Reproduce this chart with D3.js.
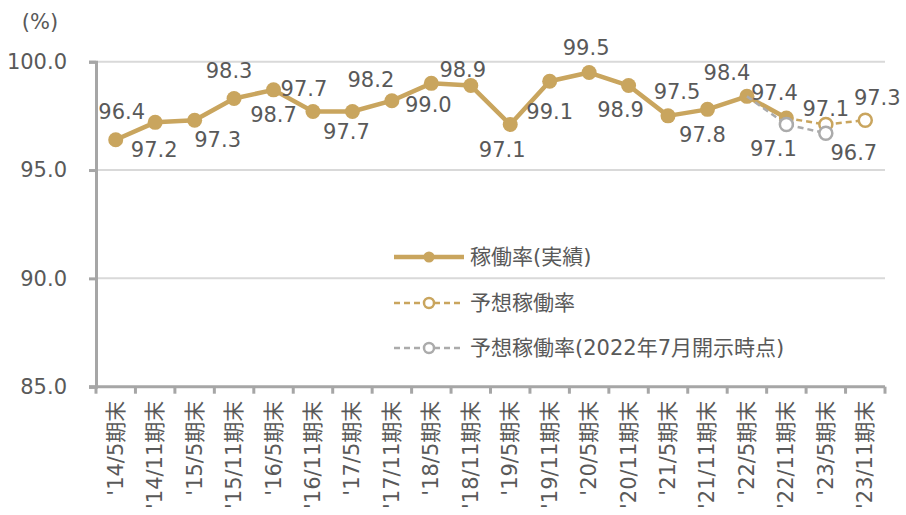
<!DOCTYPE html>
<html>
<head>
<meta charset="utf-8">
<script src="https://cdn.jsdelivr.net/npm/d3@7"></script>
<style>
  body { margin: 0; background: #fff; }
  svg { display: block; font-family: "DejaVu Sans", "Noto Sans CJK JP", sans-serif; }
  text { fill: #595959; }
</style>
</head>
<body>
<svg id="chart"></svg>
<script>
const WIDTH = 906;
const HEIGHT = 515;

const categories = [
  "'14/5期末", "'14/11期末", "'15/5期末", "'15/11期末", "'16/5期末",
  "'16/11期末", "'17/5期末", "'17/11期末", "'18/5期末", "'18/11期末",
  "'19/5期末", "'19/11期末", "'20/5期末", "'20/11期末", "'21/5期末",
  "'21/11期末", "'22/5期末", "'22/11期末", "'23/5期末", "'23/11期末"
];
const actual = [96.4, 97.2, 97.3, 98.3, 98.7, 97.7, 97.7, 98.2, 99.0, 98.9,
  97.1, 99.1, 99.5, 98.9, 97.5, 97.8, 98.4, 97.4, null, null];
const forecast = [null, null, null, null, null, null, null, null, null, null,
  null, null, null, null, null, null, null, 97.4, 97.1, 97.3];
const forecastJul22 = [null, null, null, null, null, null, null, null, null, null,
  null, null, null, null, null, null, 98.4, 97.1, 96.7, null];
const yTicks = [85, 90, 95, 100];
const legendNames = ['稼働率(実績)', '予想稼働率', '予想稼働率(2022年7月開示時点)'];

const GOLD = '#C9A55E';
const GREY = '#ABABAB';

const svg = d3.select('#chart').attr('width', WIDTH).attr('height', HEIGHT);

const x = d3.scaleBand().domain(categories).range([96, 885]);
const y = d3.scaleLinear().domain([85, 100]).range([386.7, 61.7]);
const cx = i => x(categories[i]) + x.bandwidth() / 2;

// gridlines
svg.append('g').selectAll('line')
  .data(yTicks.filter(d => d > 85))
  .enter().append('line')
  .attr('x1', 96).attr('x2', 885)
  .attr('y1', d => y(d)).attr('y2', d => y(d))
  .attr('stroke', '#d9d9d9').attr('stroke-width', 2);

// y axis
const yAxis = svg.append('g')
  .attr('transform', 'translate(96,0)')
  .call(d3.axisLeft(y).tickValues(yTicks).tickSize(7).tickPadding(22)
    .tickFormat(d3.format('.1f')));
yAxis.select('.domain').attr('stroke', '#A6A6A6').attr('stroke-width', 3);
yAxis.selectAll('.tick line').attr('stroke', '#A6A6A6').attr('stroke-width', 3);
yAxis.selectAll('.tick text').attr('font-size', 21).attr('fill', '#595959')
  .attr('font-family', '"DejaVu Sans", sans-serif');

svg.append('text').attr('x', 40).attr('y', 22).attr('text-anchor', 'middle')
  .attr('dominant-baseline', 'central').attr('font-size', 21).text('(%)');

// x axis, ticks between categories
const xAxisG = svg.append('g').attr('transform', `translate(0,${y(85)})`);
xAxisG.append('line').attr('x1', 89).attr('x2', 885)
  .attr('stroke', '#A6A6A6').attr('stroke-width', 3);
xAxisG.selectAll('.xt')
  .data(categories.concat(['end']))
  .enter().append('line')
  .attr('x1', (d, i) => i < categories.length ? x(d) : x.range()[1])
  .attr('x2', (d, i) => i < categories.length ? x(d) : x.range()[1])
  .attr('y1', 0).attr('y2', 7)
  .attr('stroke', '#A6A6A6').attr('stroke-width', 3);
xAxisG.selectAll('.xl')
  .data(categories)
  .enter().append('text')
  .attr('transform', (d, i) => `translate(${cx(i)},14) rotate(-90)`)
  .attr('text-anchor', 'end')
  .attr('dominant-baseline', 'central')
  .attr('font-size', 21)
  .text(d => d);

const line = d3.line()
  .defined(d => d.v != null)
  .x(d => cx(d.i))
  .y(d => y(d.v));
const toPts = arr => arr.map((v, i) => ({ i, v }));

// forecast (gold dashed)
svg.append('path').datum(toPts(forecast)).attr('d', line)
  .attr('fill', 'none').attr('stroke', GOLD).attr('stroke-width', 2.5)
  .attr('stroke-dasharray', '6,4');
svg.append('g').selectAll('circle')
  .data(toPts(forecast).filter(d => d.v != null && d.i > 17))
  .enter().append('circle')
  .attr('cx', d => cx(d.i)).attr('cy', d => y(d.v)).attr('r', 6.5)
  .attr('fill', '#fff').attr('stroke', GOLD).attr('stroke-width', 2.5);

// actual (gold solid)
svg.append('path').datum(toPts(actual)).attr('d', line)
  .attr('fill', 'none').attr('stroke', GOLD).attr('stroke-width', 4.5)
  .attr('stroke-linejoin', 'round');
svg.append('g').selectAll('circle')
  .data(toPts(actual).filter(d => d.v != null))
  .enter().append('circle')
  .attr('cx', d => cx(d.i)).attr('cy', d => y(d.v)).attr('r', 7.5)
  .attr('fill', GOLD);

// forecast as of Jul 2022 (grey dashed)
svg.append('path').datum(toPts(forecastJul22)).attr('d', line)
  .attr('fill', 'none').attr('stroke', GREY).attr('stroke-width', 2.5)
  .attr('stroke-dasharray', '6,4');
svg.append('g').selectAll('circle')
  .data(toPts(forecastJul22).filter(d => d.v != null && d.i > 16))
  .enter().append('circle')
  .attr('cx', d => cx(d.i)).attr('cy', d => y(d.v)).attr('r', 6.5)
  .attr('fill', '#fff').attr('stroke', GREY).attr('stroke-width', 2.5);

// data label offsets from each point [dx, dy], as placed in the original
const actualOff = [[6, -28], [-1, 28], [23, 20], [-5, -28], [0, 25], [-9, -23],
  [-6, 20], [-21, -21], [-3, 22], [-8, -16], [-8, 25], [0, 31], [-3, -25],
  [-8, 24], [9, -24], [-5, 26], [-20, -23], [-12, -25]];
const forecastOff = { 18: [0, -16], 19: [12, -22] };
const jul22Off = { 17: [-13, 24], 18: [28, 20] };

function labels(arr, off) {
  const pts = toPts(arr).filter(d => d.v != null && off[d.i]);
  svg.append('g').selectAll('text')
    .data(pts)
    .enter().append('text')
    .attr('x', d => cx(d.i) + off[d.i][0])
    .attr('y', d => y(d.v) + off[d.i][1])
    .attr('text-anchor', 'middle')
    .attr('dominant-baseline', 'central')
    .attr('font-size', 21)
    .text(d => d3.format('.1f')(d.v));
}
labels(actual, actualOff);
labels(forecast, forecastOff);
labels(forecastJul22, jul22Off);

// legend
const legendY = [257, 303, 348];
const lg = svg.append('g');
legendNames.forEach((name, k) => {
  const g = lg.append('g').attr('transform', `translate(0,${legendY[k]})`);
  const col = k === 2 ? GREY : GOLD;
  g.append('line').attr('x1', 394).attr('x2', 464)
    .attr('stroke', col).attr('stroke-width', k === 0 ? 4.5 : 2.5)
    .attr('stroke-dasharray', k === 0 ? null : '6,4');
  g.append('circle').attr('cx', 429).attr('r', k === 0 ? 5.5 : 5)
    .attr('fill', k === 0 ? col : '#fff')
    .attr('stroke', k === 0 ? 'none' : col).attr('stroke-width', 2.5);
  g.append('text').attr('x', 470).attr('dominant-baseline', 'central')
    .attr('font-size', 21).text(name);
});
</script>
</body>
</html>
